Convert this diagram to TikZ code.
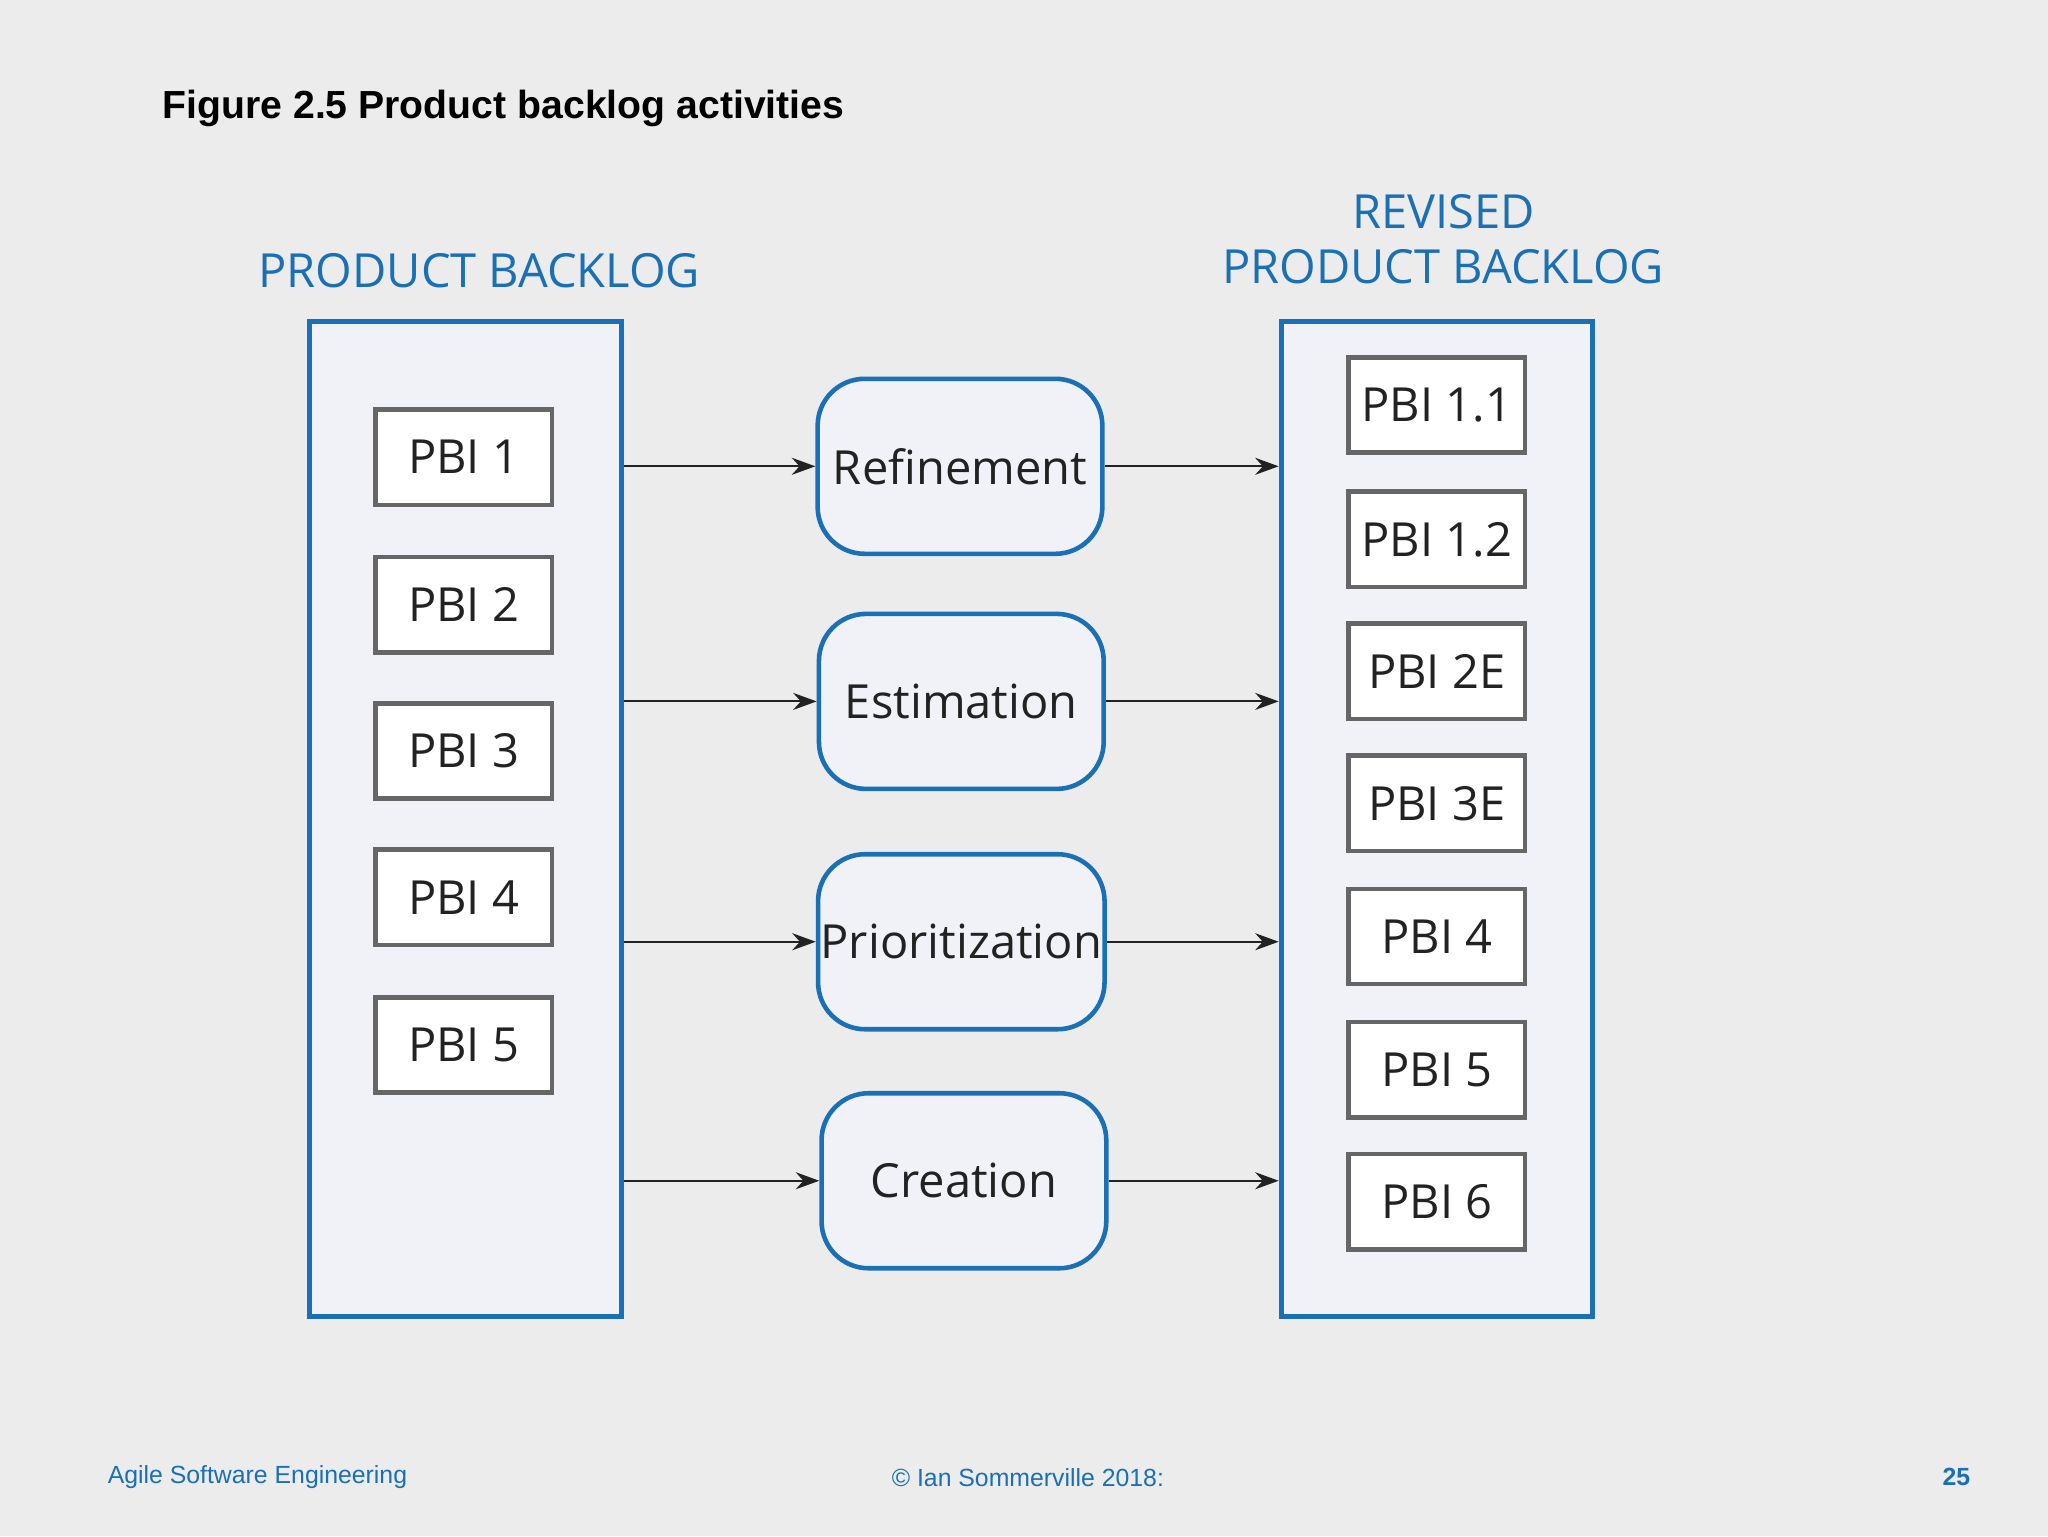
\documentclass[tikz,border=0pt]{standalone}
\usepackage{fontspec}
\setmainfont{Open Sans}
\newfontfamily\arialf{Liberation Sans}
\usetikzlibrary{arrows.meta}
\definecolor{bg}{HTML}{ECECEC}
\definecolor{myblue}{HTML}{1A6FB5}
\definecolor{fillc}{HTML}{F1F2F7}
\definecolor{pbigray}{HTML}{666666}
\definecolor{ink}{HTML}{222222}
\begin{document}
\begin{tikzpicture}[x=1pt,y=-1pt,
  cont/.style={draw=myblue,line width=4pt,fill=fillc},
  pbi/.style={draw=pbigray,line width=3.5pt,fill=white,minimum width=135pt,minimum height=73pt,font=\fontsize{36}{40}\selectfont,text=ink},
  act/.style={draw=myblue,line width=3.5pt,fill=fillc,rounded corners=36pt,minimum width=218pt,minimum height=134pt,font=\fontsize{36}{40}\selectfont,text=ink,inner sep=2pt},
  hdr/.style={text=myblue,font=\fontsize{36}{42}\selectfont,align=center},
  arr/.style={draw=ink,line width=1.6pt,-{Stealth[length=18pt,width=13pt]}},
  foot/.style={text=myblue,font=\arialf\fontsize{19}{22}\selectfont}]
\fill[bg] (0,0) rectangle (1568,1176);
\useasboundingbox (0,0) rectangle (1568,1176);
\node[anchor=west,font=\arialf\bfseries\fontsize{30}{34}\selectfont,text=black] (title) at (121,83) {Figure 2.5 Product backlog activities};
\node[hdr] (hl) at (367,207) {PRODUCT BACKLOG};
\node[hdr] (hr) at (1105,183) {REVISED\\PRODUCT BACKLOG};
\node[cont,minimum width=239pt,minimum height=762pt] (lc) at (356.5,627) {};
\node[cont,minimum width=238pt,minimum height=762pt] (rc) at (1100,627) {};
\node[pbi] (l1) at (355,350) {PBI 1};
\node[pbi] (l2) at (355,463) {PBI 2};
\node[pbi] (l3) at (355,575) {PBI 3};
\node[pbi] (l4) at (355,687) {PBI 4};
\node[pbi] (l5) at (355,800) {PBI 5};
\node[pbi] (r1) at (1100,310) {PBI 1.1};
\node[pbi] (r2) at (1100,413) {PBI 1.2};
\node[pbi] (r3) at (1100,514) {PBI 2E};
\node[pbi] (r4) at (1100,615) {PBI 3E};
\node[pbi] (r5) at (1100,717) {PBI 4};
\node[pbi] (r6) at (1100,819) {PBI 5};
\node[pbi] (r7) at (1100,920) {PBI 6};
\node[act] (a1) at (735,357) {Refinement};
\node[act] (a2) at (736,537) {Estimation};
\node[act] (a3) at (736,721) {Prioritization};
\node[act] (a4) at (738,904) {Creation};
\foreach \a in {a1,a2,a3,a4}{
  \draw[arr] (lc.east|-\a.west) -- (\a.west);
  \draw[arr] (\a.east) -- (rc.west|-\a.east);
}
\node[foot,anchor=west] (f1) at (79,1131) {Agile Software Engineering};
\node[foot] (f2) at (787,1131) {© Ian Sommerville 2018:};
\node[foot,anchor=east,font=\arialf\bfseries\fontsize{19}{22}\selectfont] (f3) at (1512,1131) {25};
\end{tikzpicture}
\end{document}
